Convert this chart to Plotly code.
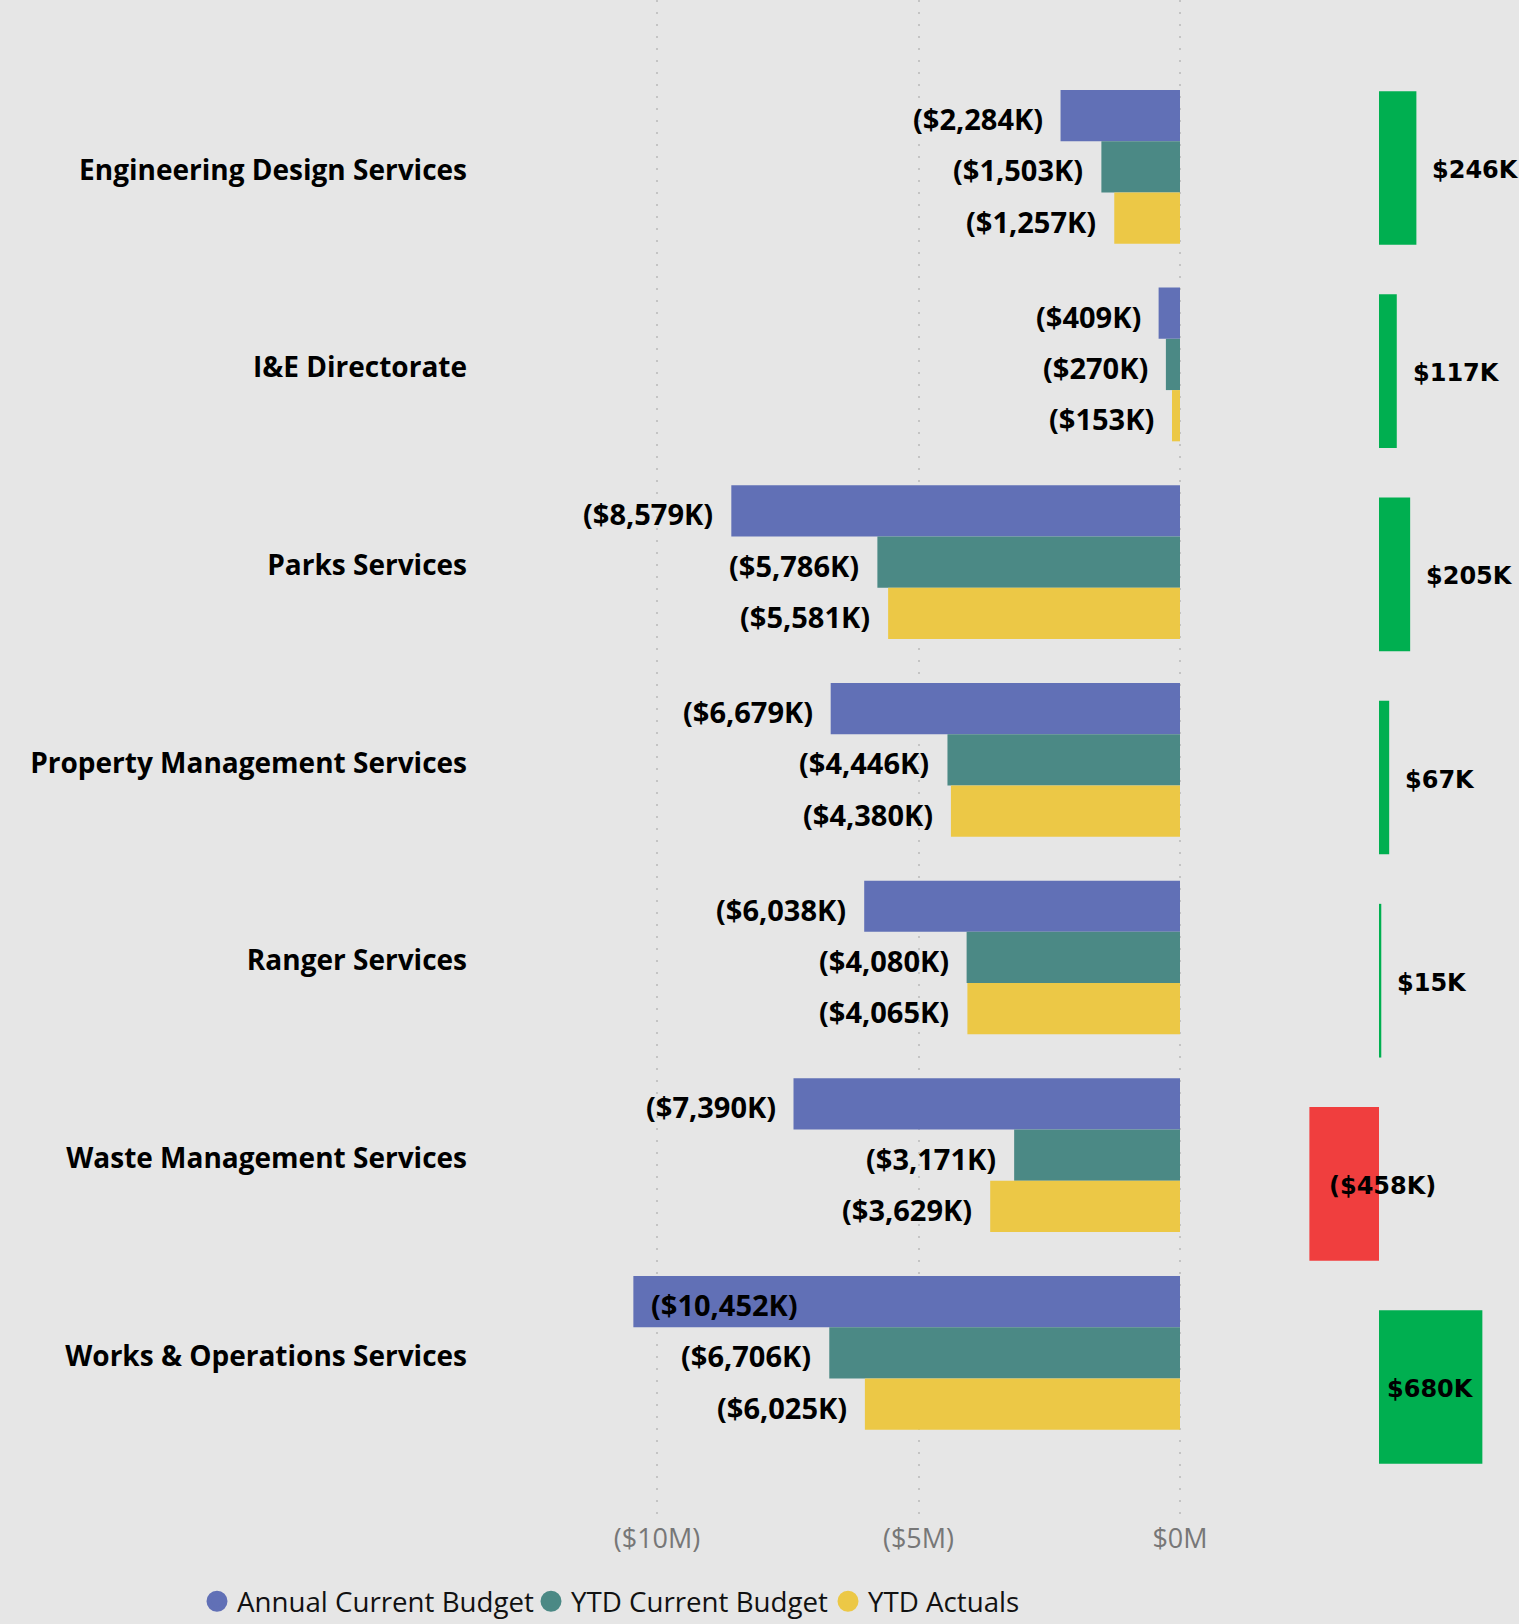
import plotly.graph_objects as go

# ---------------- data (values in $K) ----------------
categories = ["Engineering Design Services", "I&E Directorate", "Parks Services",
              "Property Management Services", "Ranger Services",
              "Waste Management Services", "Works & Operations Services"]
annual_budget = [-2284, -409, -8579, -6679, -6038, -7390, -10452]
ytd_budget = [-1503, -270, -5786, -4446, -4080, -3171, -6706]
ytd_actuals = [-1257, -153, -5581, -4380, -4065, -3629, -6025]
variance = [246, 117, 205, 67, 15, -458, 680]
series_names = ["Annual Current Budget", "YTD Current Budget", "YTD Actuals"]
tick_values = [-10000, -5000, 0]
tick_labels = ["($10M)", "($5M)", "$0M"]

# ---------------- styling / geometry ----------------
W, H = 1519, 1624
BG = "#E6E6E6"
series_colors = ["#6170B6", "#4B8985", "#ECC846"]
GREEN, RED = "#00AF50", "#F03E3E"
FONT = "Segoe UI, Open Sans, sans-serif"
VFONT = "DejaVu Sans, Verdana, sans-serif"

plot_bottom_px = 1518
ydom = [1 - plot_bottom_px / H, 1]

# main panel
L1, R1, ZERO1, PPK1 = 476, 1230, 1180, 0.0523   # px per $K
x1_range = [(L1 - ZERO1) / PPK1, (R1 - ZERO1) / PPK1]
c0_1, step1 = 166.8, 197.67
y1_range = [(plot_bottom_px - c0_1) / step1, -c0_1 / step1]
bargap = 0.2224

# variance panel
L2, R2, ZERO2, PPK2 = 1240, 1519, 1379, 0.152
x2_range = [(L2 - ZERO2) / PPK2, (R2 - ZERO2) / PPK2]
c0_2, step2 = 168.0, 203.17
y2_range = [(plot_bottom_px - c0_2) / step2, -c0_2 / step2]
var_width = 0.7565

# legend entry positions (px of text start)
legend_text_px = [236, 570, 867]
legend_ids = ["legend", "legend2", "legend3"]


def fmt(v):
    return f"(${abs(v):,}K)" if v < 0 else f"${v:,}K"


fig = go.Figure()

series = [annual_budget, ytd_budget, ytd_actuals]
for name, vals, col in zip(series_names, series, series_colors):
    fig.add_trace(go.Bar(y=categories, x=vals, orientation="h", name=name,
                         marker=dict(color=col, line=dict(width=0)),
                         showlegend=False, xaxis="x", yaxis="y", hoverinfo="x+y"))

fig.add_trace(go.Bar(y=categories, x=variance, orientation="h", name="Variance",
                     marker=dict(color=[GREEN if v >= 0 else RED for v in variance],
                                 line=dict(width=0)),
                     width=var_width, showlegend=False, xaxis="x2", yaxis="y2"))

# legend entries (circle symbols)
for name, col, lid in zip(series_names, series_colors, legend_ids):
    fig.add_trace(go.Scatter(x=[None], y=[None], mode="markers", name=name,
                             marker=dict(symbol="circle", size=16, color=col,
                                         line=dict(color=col, width=5)),
                             xaxis="x", yaxis="y", legend=lid))

annotations = []
slot = (1 - bargap) / 3
gap_px = 16
for j, vals in enumerate(series):
    off = (j - 1) * slot
    for i, v in enumerate(vals):
        txt = fmt(v)
        est_w = len(txt) * 15.0
        outside_end = v - (gap_px + est_w) / PPK1
        if outside_end > x1_range[0]:
            anc, shift = "right", -gap_px
        else:
            anc, shift = "left", gap_px
        annotations.append(dict(x=v, y=i + off, xref="x", yref="y", text=txt,
                                showarrow=False, xanchor=anc, yanchor="middle",
                                xshift=shift, yshift=-3,
                                font=dict(family=FONT, size=29, color="#000000",
                                          weight="bold")))

for i, v in enumerate(variance):
    txt = fmt(v)
    est_w = len(txt) * 16.5
    bar_w = abs(v) * PPK2
    if bar_w >= est_w + 10:
        x, anc, shift = v / 2, "center", 0
    elif v >= 0:
        x, anc, shift = v, "left", 14
    else:
        x, anc, shift = 0, "center", 3
    annotations.append(dict(x=x, y=categories[i], xref="x2", yref="y2", text=txt,
                            showarrow=False, xanchor=anc, yanchor="middle",
                            xshift=shift, yshift=-2,
                            font=dict(family=VFONT, size=24, color="#000000",
                                      weight="bold")))

legend_layout = {}
for lid, tx in zip(legend_ids, legend_text_px):
    legend_layout[lid] = dict(orientation="h", x=(tx - 39) / W, y=1 - 1601.7 / H,
                              xanchor="left", yanchor="middle",
                              bgcolor="rgba(0,0,0,0)",
                              font=dict(family=FONT, size=27.7, color="#111111"),
                              itemwidth=30)

fig.update_layout(
    width=W, height=H,
    margin=dict(l=0, r=0, t=0, b=0, autoexpand=False),
    paper_bgcolor=BG, plot_bgcolor=BG,
    barmode="group", bargap=bargap, bargroupgap=0,
    showlegend=True,
    xaxis=dict(domain=[L1 / W, R1 / W], range=x1_range, anchor="y",
               tickvals=tick_values, ticktext=tick_labels,
               showgrid=True, gridcolor="#C4C4C4", gridwidth=2, griddash="2px,10px",
               zeroline=False, showline=False, ticks="",
               tickfont=dict(family=FONT, size=27, color="#777777"),
               ticklabelstandoff=2, automargin=False, fixedrange=True),
    yaxis=dict(domain=ydom, range=y1_range, anchor="x", type="category",
               categoryorder="array", categoryarray=categories,
               showgrid=False, zeroline=False, showline=False, ticks="",
               tickfont=dict(family=FONT, size=28, color="#000000", weight="bold"),
               ticklabelstandoff=8, ticklabelshift=-3,
               automargin=False, fixedrange=True),
    xaxis2=dict(domain=[L2 / W, R2 / W], range=x2_range, anchor="y2",
                visible=False, showgrid=False, zeroline=False, fixedrange=True),
    yaxis2=dict(domain=ydom, range=y2_range, anchor="x2", type="category",
                categoryorder="array", categoryarray=categories,
                visible=False, showgrid=False, zeroline=False, fixedrange=True),
    annotations=annotations,
    **legend_layout,
)

fig.write_html("out.html",
               config={"displayModeBar": False},
               post_script="document.body.style.margin='0';"
                           "document.body.style.padding='0';"
                           "document.body.style.background='" + BG + "';")
